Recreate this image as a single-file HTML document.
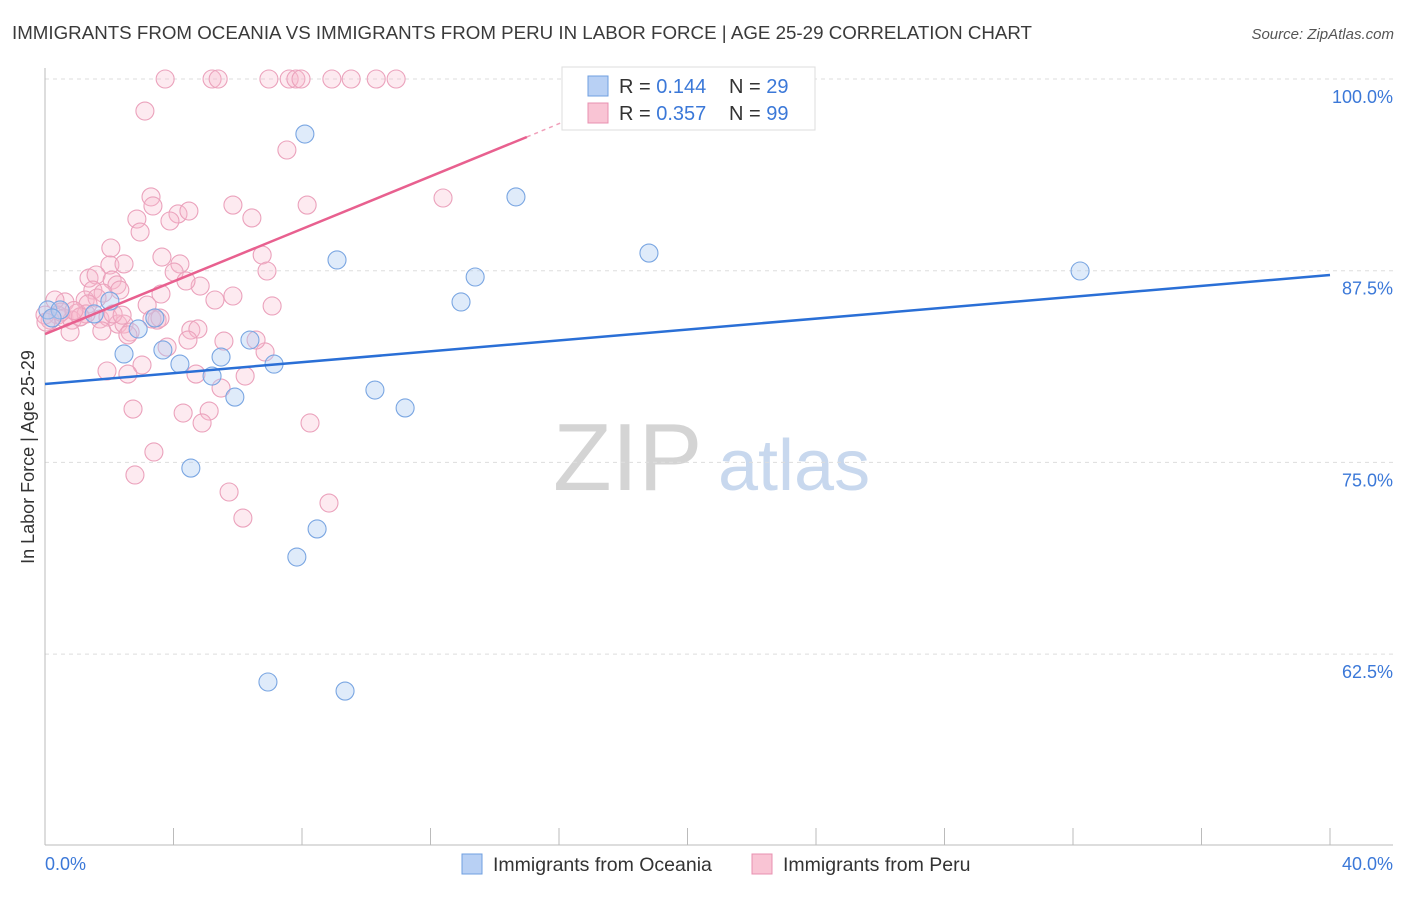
<!DOCTYPE html>
<html><head><meta charset="utf-8"><style>
body{margin:0;background:#fff;font-family:"Liberation Sans",sans-serif;}
svg text{font-family:"Liberation Sans",sans-serif;}
</style></head><body>
<svg id="chart" width="1406" height="892" xmlns="http://www.w3.org/2000/svg">
<text x="12" y="39" font-size="18" fill="#3a3a3a" textLength="1020" lengthAdjust="spacingAndGlyphs">IMMIGRANTS FROM OCEANIA VS IMMIGRANTS FROM PERU IN LABOR FORCE | AGE 25-29 CORRELATION CHART</text>
<text x="1394" y="39" font-size="15" fill="#555" text-anchor="end" font-style="italic">Source: ZipAtlas.com</text>
<g>
<text x="553" y="490" font-size="96" fill="#d4d4d4" font-family="Liberation Serif,serif">ZIP</text>
<text x="718" y="490" font-size="72" fill="#c8d8ee">atlas</text>
</g>
<g id="grid"></g><g id="axes"></g><g id="pts"></g><g id="lines"></g>
<text transform="translate(34,457) rotate(-90)" font-size="18" fill="#333" text-anchor="middle">In Labor Force | Age 25-29</text>
<text x="45" y="870" font-size="18" fill="#3b78d8">0.0%</text>
<text x="1393" y="870" font-size="18" fill="#3b78d8" text-anchor="end">40.0%</text>
<g>
<rect x="562" y="67" width="253" height="63" fill="#fff" stroke="#ddd"/>
<rect x="588" y="76" width="20" height="20" fill="#b8d0f4" stroke="#6f9fe0"/>
<rect x="588" y="103" width="20" height="20" fill="#f9c4d4" stroke="#e890b0"/>
<text x="619" y="93" font-size="20" fill="#333">R = <tspan fill="#3b78d8">0.144</tspan></text>
<text x="729" y="93" font-size="20" fill="#333">N = <tspan fill="#3b78d8">29</tspan></text>
<text x="619" y="120" font-size="20" fill="#333">R = <tspan fill="#3b78d8">0.357</tspan></text>
<text x="729" y="120" font-size="20" fill="#333">N = <tspan fill="#3b78d8">99</tspan></text>
</g>
<g>
<rect x="462" y="854" width="20" height="20" fill="#b8d0f4" stroke="#6f9fe0"/>
<text x="493" y="871" font-size="19.5" fill="#333">Immigrants from Oceania</text>
<rect x="752" y="854" width="20" height="20" fill="#f9c4d4" stroke="#e890b0"/>
<text x="783" y="871" font-size="19.5" fill="#333">Immigrants from Peru</text>
</g>
</svg>
<script>
const yTicks=[100,87.5,75,62.5];
const yTickLabels=["100.0%","87.5%","75.0%","62.5%"];
const xTicks=[0,4,8,12,16,20,24,28,32,36,40];
const oceaniaX=[8.09,14.66,18.80,32.22,9.09,13.39,12.95,2.02,1.53,0.09,0.47,2.90,6.38,2.46,3.67,5.48,4.20,5.20,7.13,5.91,10.27,11.21,4.54,8.47,7.84,6.94,9.34,0.22,3.42];
const oceaniaY=[96.41,92.31,88.65,87.48,88.20,87.09,85.46,85.52,84.68,84.94,84.94,83.70,82.98,82.07,82.33,81.87,81.41,80.63,81.41,79.26,79.72,78.55,74.63,70.66,68.83,60.68,60.09,84.42,84.42];
const peruX=[3.74,5.20,5.39,6.97,7.60,7.81,7.97,8.93,9.53,10.31,10.93,3.11,7.53,3.30,3.36,5.85,8.16,12.39,4.14,4.48,3.89,2.86,2.96,6.44,2.05,3.64,6.76,4.20,4.02,6.91,2.02,2.46,1.37,1.59,2.09,2.24,4.83,1.49,1.81,4.39,5.85,3.61,2.33,1.25,1.62,1.34,0.62,3.18,7.07,0.31,0.40,0.59,1.09,1.71,1.96,1.00,0.84,0.16,2.27,2.46,2.65,3.49,1.77,0.78,2.58,4.54,4.76,4.45,5.57,3.80,6.85,3.02,1.93,2.58,4.70,6.23,5.48,2.74,4.30,5.11,4.89,8.25,3.39,2.80,5.73,8.84,6.16,0.0,0.03,1.28,3.33,5.29,6.57,3.58,2.12,0.5,1.1,2.4,0.9];
const peruY=[100,100,100,100,100,100,100,100,100,100,100,97.91,95.37,92.31,91.72,91.78,91.78,92.24,91.20,91.39,90.74,90.87,90.02,90.94,88.98,88.39,88.52,87.94,87.41,87.48,87.87,87.94,87.02,87.22,86.89,86.57,86.50,86.24,86.04,86.83,85.85,85.98,86.24,85.59,85.72,85.33,85.46,85.26,85.20,85.59,84.61,84.41,84.48,84.35,84.48,84.74,84.28,84.28,84.02,84.02,83.50,84.28,83.57,83.50,83.31,83.63,83.70,82.98,82.91,82.52,82.20,81.35,80.96,80.76,80.76,80.63,79.85,78.48,78.22,78.35,77.57,77.57,75.68,74.18,73.07,72.35,71.37,84.61,84.15,84.68,84.35,85.59,82.98,84.41,84.68,84.8,84.5,84.6,84.9];
const oceaniaTrend=[[0,80.11],[40,87.22]];
const peruTrend=[[0,83.37],[15.0,96.22]];
const peruTrendExt=[[15.0,96.22],[16.65,97.65]];
const NS="http://www.w3.org/2000/svg";
const X=v=>45+v/40*1285, Y=v=>79+(100-v)/12.5*191.7;
function mk(tag,attrs,parent){const e=document.createElementNS(NS,tag);for(const k in attrs)e.setAttribute(k,attrs[k]);document.getElementById(parent).appendChild(e);return e;}
yTicks.forEach((t,i)=>{
 const g=mk('line',{x1:45,x2:1393,y1:Y(t),y2:Y(t),stroke:'#ddd','stroke-dasharray':'4,4'},'grid');
 
 
 const l=mk('text',{x:1393,y:Y(t)+24,'font-size':18,fill:'#3b78d8','text-anchor':'end'},'grid');
 l.textContent=yTickLabels[i];
 
 
});
const ax=mk('line',{x1:45,x2:1393,y1:845,y2:845,stroke:'#bbb'},'axes');


const ay=mk('line',{x1:45,x2:45,y1:68,y2:845,stroke:'#bbb'},'axes');


xTicks.forEach(t=>{const e=mk('line',{x1:X(t),x2:X(t),y1:828,y2:845,stroke:'#bbb'},'axes');
 
 });
peruX.forEach((v,i)=>{const c=mk('circle',{cx:X(v),cy:Y(peruY[i]),r:9,fill:'rgba(248,185,205,0.3)',stroke:'#eba2bc','stroke-width':1.1},'pts');
 
 });
oceaniaX.forEach((v,i)=>{const c=mk('circle',{cx:X(v),cy:Y(oceaniaY[i]),r:9,fill:'rgba(175,205,242,0.4)',stroke:'#7aa6e2','stroke-width':1.1},'pts');
 
 });
const bl=mk('line',{x1:X(oceaniaTrend[0][0]),y1:Y(oceaniaTrend[0][1]),x2:X(oceaniaTrend[1][0]),y2:Y(oceaniaTrend[1][1]),stroke:'#2a6fd6','stroke-width':2.5},'lines');


const pl=mk('line',{x1:X(peruTrend[0][0]),y1:Y(peruTrend[0][1]),x2:X(peruTrend[1][0]),y2:Y(peruTrend[1][1]),stroke:'#e8608f','stroke-width':2.5},'lines');


const pd=mk('line',{x1:X(peruTrendExt[0][0]),y1:Y(peruTrendExt[0][1]),x2:X(peruTrendExt[1][0]),y2:Y(peruTrendExt[1][1]),stroke:'#f0a0ba','stroke-width':1.5,'stroke-dasharray':'4,4'},'lines');


</script>
</body></html>
